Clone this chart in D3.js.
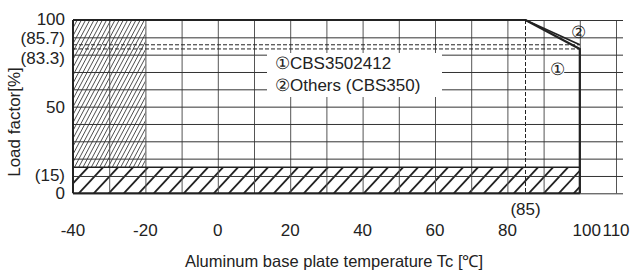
<!DOCTYPE html>
<html>
<head>
<meta charset="utf-8">
<script src="https://cdn.jsdelivr.net/npm/d3@7"></script>
<style>
  body { margin: 0; background: #fff; }
  svg { font-family: "Liberation Sans", Arial, sans-serif; }
</style>
</head>
<body>
<script>
// derating data
var xTicks = [-40, -20, 0, 20, 40, 60, 80, 100, 110];
var yTicks = [0, 15, 50, 83.3, 85.7, 100];
var yTickLabels = ["0", "(15)", "50", "(83.3)", "(85.7)", "100"];
var gridXValues = [-30, -20, -10, 0, 10, 20, 30, 40, 50, 60, 70, 80, 90, 100, 110];
var gridYValues = [0, 10, 20, 30, 40, 50, 60, 70, 80, 90, 100];
var curve1 = [[-40, 100], [85, 100], [100, 83.3], [100, 0]];
var curve2 = [[85, 100], [100, 85.7]];
var dashLevels = [85.7, 83.3];
var kneeTemp = 85;
var maxTemp = 100;
var lowLoad = 15;
var coldLimit = -20;
var legendItems = ["\u2460CBS3502412", "\u2461Others (CBS350)"];

var w = 638, h = 273;
var x = d3.scaleLinear().domain([-40, 110]).range([73, 616]);
var y = d3.scaleLinear().domain([0, 100]).range([193.3, 20]);
var xEnd = x(110) + 7;

var svg = d3.select("body").append("svg").attr("width", w).attr("height", h);

// hatching drawn as clipped line sets
function hatchLines(id, x0, x1, y0, y1, step, angleDeg, sw) {
    var clip = svg.append("clipPath").attr("id", id);
    clip.append("rect").attr("x", x(x0)).attr("y", y(y1))
        .attr("width", x(x1) - x(x0)).attr("height", y(y0) - y(y1));
    var hpx = y(y0) - y(y1);
    var run = hpx / Math.tan(angleDeg * Math.PI / 180);
    var starts = d3.range(x(x0) - run, x(x1) + step, step);
    svg.append("g").attr("clip-path", "url(#" + id + ")")
        .selectAll("line").data(starts).enter().append("line")
        .attr("x1", function (d) { return d; }).attr("y1", y(y0))
        .attr("x2", function (d) { return d + run; }).attr("y2", y(y1))
        .attr("stroke", "#222").attr("stroke-width", sw);
}
hatchLines("cDense", -40, coldLimit, lowLoad, 100, 4.2, 62, 0.8);
hatchLines("cCoarse", -40, maxTemp, 0, lowLoad, 15, 47, 1.8);

// grid via axes
var vAxis = d3.axisBottom(x).tickValues(gridXValues)
    .tickSize(-(y(0) - y(100))).tickFormat("");
var vg = svg.append("g").attr("transform", "translate(0," + y(0) + ")").call(vAxis);
vg.select(".domain").remove();
vg.selectAll(".tick line").attr("stroke", "#555").attr("stroke-width", 1);

var hAxis = d3.axisLeft(y).tickValues(gridYValues)
    .tickSize(-(xEnd - x(-40))).tickFormat("");
var hg = svg.append("g").attr("transform", "translate(" + x(-40) + ",0)").call(hAxis);
hg.select(".domain").remove();
hg.selectAll(".tick line").attr("stroke", "#333").attr("stroke-width", 1);

// dashed levels
svg.selectAll("line.dl").data(dashLevels).enter().append("line").attr("class", "dl")
    .attr("x1", x(-40)).attr("x2", x(maxTemp))
    .attr("y1", function (d) { return y(d); }).attr("y2", function (d) { return y(d); })
    .attr("stroke", "#222").attr("stroke-width", 1).attr("stroke-dasharray", "4,2");
svg.append("line")
    .attr("x1", x(kneeTemp)).attr("x2", x(kneeTemp)).attr("y1", y(100)).attr("y2", y(0))
    .attr("stroke", "#222").attr("stroke-width", 1).attr("stroke-dasharray", "4,2");

// frame and low-load line
svg.append("line").attr("x1", x(-40)).attr("x2", x(-40)).attr("y1", y(0)).attr("y2", y(100))
    .attr("stroke", "#222").attr("stroke-width", 2);
svg.append("line").attr("x1", x(-40)).attr("x2", x(maxTemp)).attr("y1", y(0)).attr("y2", y(0))
    .attr("stroke", "#222").attr("stroke-width", 2);
svg.append("line").attr("x1", x(-40)).attr("x2", x(maxTemp)).attr("y1", y(lowLoad)).attr("y2", y(lowLoad))
    .attr("stroke", "#222").attr("stroke-width", 1.5);

// curves
var lineGen = d3.line().x(function (d) { return x(d[0]); }).y(function (d) { return y(d[1]); });
svg.append("path").attr("d", lineGen(curve1)).attr("fill", "none")
    .attr("stroke", "#222").attr("stroke-width", 2.2).attr("stroke-linejoin", "miter");
svg.append("path").attr("d", lineGen(curve2)).attr("fill", "none")
    .attr("stroke", "#222").attr("stroke-width", 1.8);

// legend
var lg = svg.append("g");
lg.append("rect").attr("x", 267).attr("y", 53).attr("width", 175).attr("height", 44).attr("fill", "#fff");
lg.selectAll("text").data(legendItems).enter().append("text")
    .attr("x", 275).attr("y", function (d, i) { return 69 + i * 22; })
    .attr("font-size", 17).attr("fill", "#222")
    .text(function (d) { return d; });

// circled markers
svg.append("circle").attr("cx", 557).attr("cy", 69).attr("r", 8).attr("fill", "#fff");
svg.append("text").attr("x", 557).attr("y", 75).attr("text-anchor", "middle")
    .attr("font-size", 17).attr("fill", "#222").text("\u2460");
svg.append("text").attr("x", 578).attr("y", 38).attr("text-anchor", "middle")
    .attr("font-size", 17).attr("fill", "#222").text("\u2461");

// y tick labels
var yOff = { 0: 0, 15: 8, 50: 0, 83.3: 9, 85.7: -7, 100: -1 };
svg.selectAll("text.yl").data(yTicks).enter().append("text").attr("class", "yl")
    .attr("x", 65).attr("y", function (d) { return y(d) + yOff[d]; })
    .attr("dy", "0.35em").attr("text-anchor", "end")
    .attr("font-size", 17).attr("fill", "#222")
    .text(function (d, i) { return yTickLabels[i]; });

// x tick labels
svg.selectAll("text.xl").data(xTicks).enter().append("text").attr("class", "xl")
    .attr("x", function (d) { return x(d) + (d === 100 ? 7 : 0); }).attr("y", 230)
    .attr("dy", "0.35em").attr("text-anchor", "middle")
    .attr("font-size", 17).attr("fill", "#222")
    .text(function (d) { return d; });
svg.append("text").attr("x", x(kneeTemp)).attr("y", 209.5).attr("dy", "0.35em")
    .attr("text-anchor", "middle").attr("font-size", 17).attr("fill", "#222")
    .text("(" + kneeTemp + ")");

// axis titles
svg.append("text").attr("x", 334).attr("y", 261).attr("dy", "0.35em")
    .attr("text-anchor", "middle").attr("font-size", 16.5).attr("fill", "#222")
    .text("Aluminum base plate temperature Tc [\u2103]");
svg.append("text").attr("transform", "translate(14,122) rotate(-90)")
    .attr("dy", "0.35em").attr("text-anchor", "middle").attr("font-size", 17).attr("fill", "#222")
    .text("Load factor[%]");
</script>
</body>
</html>
